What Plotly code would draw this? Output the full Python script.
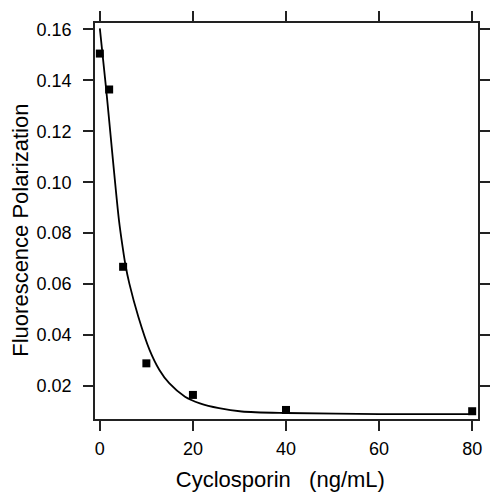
import plotly.graph_objects as go

# Measured data points
conc = [0, 2, 5, 10, 20, 40, 80]
polarization = [0.1505, 0.1364, 0.0668, 0.0289, 0.0165, 0.0106, 0.0101]

# Fitted curve
curve_x = [0, 1.33, 4.1, 4.94, 5.5, 6.33, 8.27, 10.7, 12.8, 14.9, 18.3,
           21.5, 25.6, 30.5, 40, 60, 80]
curve_y = [0.1604, 0.1370, 0.0852, 0.0740, 0.0675, 0.0603, 0.0472, 0.0341,
           0.0263, 0.0211, 0.0158, 0.0132, 0.0113, 0.0100, 0.0094, 0.0090,
           0.0090]

x_ticks = [0, 20, 40, 60, 80]
y_ticks = [0.02, 0.04, 0.06, 0.08, 0.10, 0.12, 0.14, 0.16]
y_tick_labels = ["0.02", "0.04", "0.06", "0.08", "0.10", "0.12", "0.14", "0.16"]

font_family = "Liberation Sans, Arial, Helvetica, sans-serif"

fig = go.Figure()
fig.add_trace(go.Scatter(
    x=curve_x, y=curve_y, mode="lines",
    line=dict(color="black", width=1.8, shape="spline", smoothing=0.8),
    showlegend=False, hoverinfo="skip"))
fig.add_trace(go.Scatter(
    x=conc, y=polarization, mode="markers",
    marker=dict(symbol="square", size=8, color="black"),
    showlegend=False))

axis_common = dict(
    showgrid=False, zeroline=False, showline=True, linecolor="#222",
    linewidth=1.5, ticks="outside", ticklen=10, tickwidth=1.5,
    tickcolor="#222", mirror="ticks",
    tickfont=dict(family=font_family, size=18, color="black"),
)

fig.update_layout(
    width=492, height=494,
    margin=dict(l=95, r=2, t=23, b=75),
    paper_bgcolor="white", plot_bgcolor="white",
    font=dict(family=font_family, color="black"),
    xaxis=dict(
        range=[-1.04, 81.25], tickvals=x_ticks,
        title=dict(text="Cyclosporin&nbsp;&nbsp;&nbsp;(ng/mL)&nbsp;&nbsp;",
                   font=dict(family=font_family, size=22), standoff=13),
        ticklabelstandoff=3,
        **axis_common),
    yaxis=dict(
        range=[0.00705, 0.1625], tickvals=y_ticks, ticktext=y_tick_labels,
        title=dict(text="Fluorescence Polarization&nbsp;&nbsp;&nbsp;",
                   font=dict(family=font_family, size=22), standoff=2),
        ticklabelstandoff=8,
        **axis_common),
)

fig.write_html("out.html")
